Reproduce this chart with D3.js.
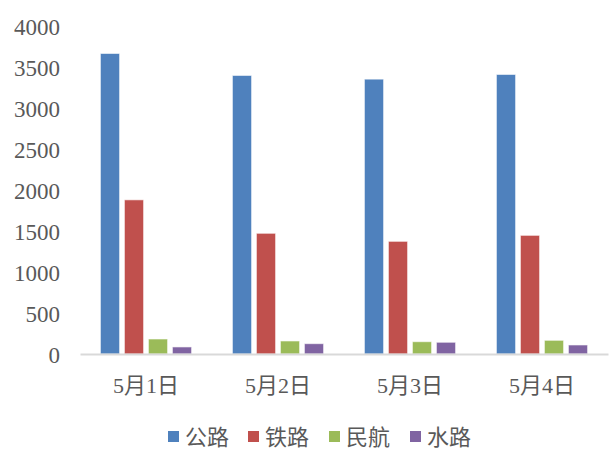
<!DOCTYPE html>
<html>
<head>
<meta charset="utf-8">
<script src="https://cdn.jsdelivr.net/npm/d3@7"></script>
<style>
  body { margin: 0; background: #fff; }
  svg text { font-family: "Liberation Serif", "Noto Sans CJK SC", serif; fill: #595959; }
</style>
</head>
<body>
<div id="chart"></div>
<script>
var categories = ["5月1日", "5月2日", "5月3日", "5月4日"];
var seriesNames = ["公路", "铁路", "民航", "水路"];
var seriesColors = ["#4F81BD", "#C0504D", "#9BBB59", "#8064A2"];
var roadValues = [3665, 3397, 3352, 3409];
var railValues = [1880, 1472, 1374, 1447];
var airValues = [183, 159, 150, 167];
var waterValues = [86, 126, 143, 110];
var yTicks = [0, 500, 1000, 1500, 2000, 2500, 3000, 3500, 4000];

var allValues = [roadValues, railValues, airValues, waterValues];

var WIDTH = 615, HEIGHT = 450, MARGINS = { top: 26, right: 7, bottom: 96, left: 80 };

var svg = d3.select("#chart").append("svg").attr("width", WIDTH).attr("height", HEIGHT);

var x0 = d3.scaleBand().domain(categories)
		.range([ MARGINS.left, WIDTH - MARGINS.right ]).padding(0);
var x1 = d3.scaleBand().domain(seriesNames)
		.range([ 0, x0.bandwidth() ]).paddingInner(0.2).paddingOuter(0.85);
var yScale = d3.scaleLinear().domain([ 0, 4000 ])
		.range([ HEIGHT - MARGINS.bottom, MARGINS.top ]);

// y axis labels only, no separators
var gY = svg.append("g").attr("transform", "translate(" + MARGINS.left + ",0)")
		.call(d3.axisLeft(yScale).tickValues(yTicks).tickFormat(d3.format("d"))
				.tickSize(0).tickPadding(20));
gY.select(".domain").remove();
gY.selectAll("text").style("font-size", "23px").attr("dy", "0.38em");

// bars
var groups = svg.append("g").selectAll("g").data(categories).enter().append("g")
		.attr("transform", function(d) { return "translate(" + x0(d) + ",0)"; });
groups.selectAll("rect").data(function(d, i) {
	return seriesNames.map(function(s, j) { return { key: s, idx: j, value: allValues[j][i] }; });
}).enter().append("rect")
	.attr("x", function(d) { return x1(d.key); })
	.attr("y", function(d) { return yScale(d.value); })
	.attr("width", x1.bandwidth())
	.attr("height", function(d) { return yScale(0) - yScale(d.value); })
	.attr("fill", function(d) { return seriesColors[d.idx]; })
	.attr("stroke", "#ffffff").attr("stroke-opacity", 0.6).attr("stroke-width", 1);

// x axis
var gX = svg.append("g").attr("transform", "translate(0," + yScale(0) + ")")
		.call(d3.axisBottom(x0).tickSize(0).tickSizeOuter(0));
gX.select(".domain").attr("stroke", "#d9d9d9").attr("stroke-width", 2);
gX.selectAll("text").style("font-size", "22px").attr("y", 31).attr("dy", "0.35em");

// legend
var legend = svg.append("g").attr("class", "legend");
var legendX = [168, 248, 329, 410];
seriesNames.forEach(function(s, i) {
	legend.append("rect").attr("x", legendX[i]).attr("y", 431)
		.attr("width", 11).attr("height", 11).attr("fill", seriesColors[i]);
	legend.append("text").attr("x", legendX[i] + 17).attr("y", 437)
		.attr("dy", "0.35em").style("font-size", "22px").text(s);
});
</script>
</body>
</html>
